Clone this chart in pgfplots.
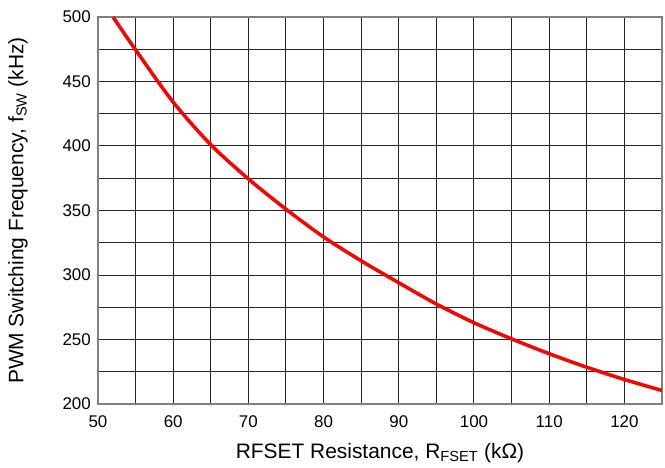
\documentclass[border=0pt]{standalone}
\usepackage{pgfplots}
\pgfplotsset{compat=1.18}
\usepackage{fontspec}
\setmainfont{Liberation Sans}
\definecolor{gridline}{HTML}{262626}
\definecolor{frameline}{HTML}{808080}
\begin{document}
\begin{tikzpicture}
\begin{axis}[
  scale only axis,
  width=564bp, height=387bp,
  xmin=50, xmax=125, ymin=200, ymax=500,
  xtick={50,60,...,120}, minor xtick={55,65,...,125},
  ytick={200,250,...,500}, minor ytick={225,275,...,475},
  grid=both,
  major grid style={gridline, line width=1bp},
  minor grid style={gridline, line width=1bp},
  major tick length=0, minor tick length=0,
  axis line style={frameline, line width=1.2bp},
  tick label style={font=\fontsize{17}{19}\selectfont},
  /pgf/number format/assume math mode=true,
  xticklabel style={anchor=base, yshift=-23bp},
  yticklabel style={anchor=east, inner sep=0pt, xshift=-7bp},
  label style={font=\fontsize{21}{24}\selectfont},
  xlabel={RFSET Resistance, R\textsubscript{FSET} (kΩ)},
  ylabel={PWM Switching Frequency, f\textsubscript{SW} (kHz)},
  xlabel style={at={(axis description cs:0.5,-0.127)}, anchor=center},
  ylabel style={at={(axis description cs:-0.1418,0.5)}, anchor=center},
]
\addplot[red, line width=3.5bp, smooth] coordinates {
  (52,500) (55,474.5) (60,434) (65,401) (70,374.5) (75,351)
  (80,329.5) (85,311) (90,294) (95,277.5) (100,263) (105,250.5)
  (110,239) (115,228.5) (120,219) (125,210.5)
};
\end{axis}
\pgfresetboundingbox
\path (-98bp,-64bp) rectangle (567bp,404bp);
\end{tikzpicture}
\end{document}
